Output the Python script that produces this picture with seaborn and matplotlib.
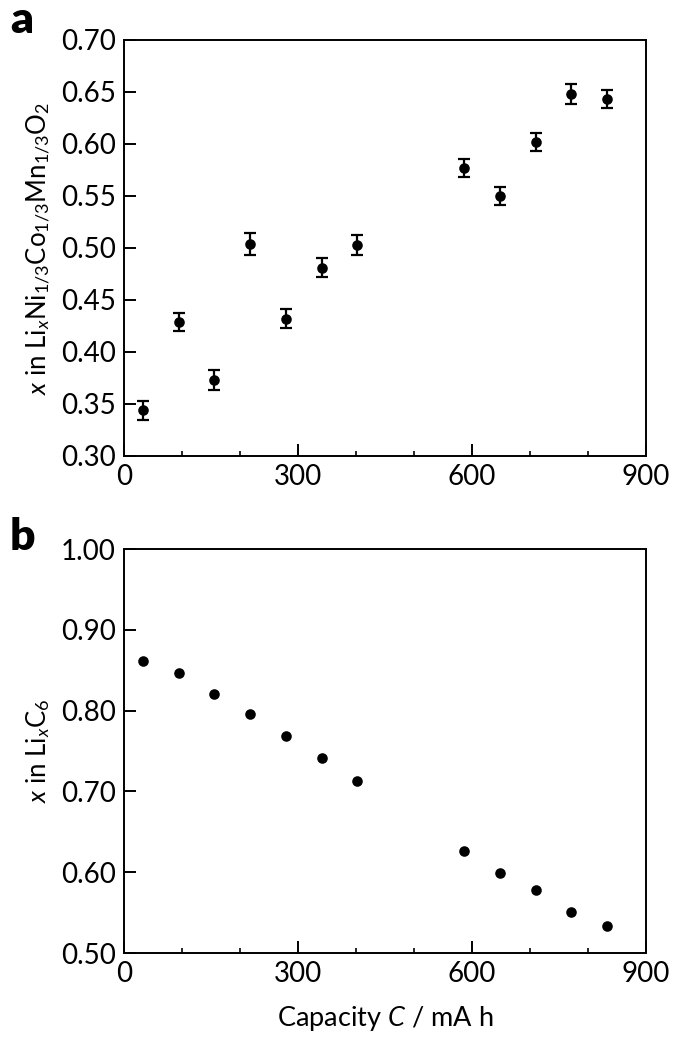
import matplotlib
matplotlib.use("Agg")
import matplotlib.pyplot as plt
from matplotlib.ticker import MultipleLocator, FormatStrFormatter
import seaborn as sns
import pandas as pd

capacity = [32, 94, 156, 218, 280, 341, 402, 586, 648, 710, 771, 833]
x_cathode = [0.344, 0.429, 0.373, 0.504, 0.432, 0.481, 0.503, 0.577, 0.550, 0.602, 0.648, 0.643]
x_cathode_err = [0.009, 0.0085, 0.010, 0.0105, 0.0093, 0.009, 0.0096, 0.0088, 0.0088, 0.0088, 0.0096, 0.0087]
x_anode = [0.862, 0.846, 0.821, 0.796, 0.769, 0.741, 0.713, 0.626, 0.599, 0.578, 0.551, 0.534]

sns.set_theme(style="ticks")
plt.rcParams['font.family'] = ['Lato', 'DejaVu Sans']
plt.rcParams['mathtext.fontset'] = 'custom'
plt.rcParams['mathtext.rm'] = 'Lato'
plt.rcParams['mathtext.it'] = 'Lato:italic'
plt.rcParams['mathtext.bf'] = 'Lato:bold'
plt.rcParams['text.color'] = 'black'
plt.rcParams['axes.labelcolor'] = 'black'

fig = plt.figure(figsize=(6.75, 10.59), dpi=100)
W, H = 675, 1059
ax1 = fig.add_axes([124 / W, 1 - 456 / H, (646 - 124) / W, (456 - 40) / H])
ax2 = fig.add_axes([124 / W, 1 - 953 / H, (646 - 124) / W, (953 - 549) / H])

df = pd.DataFrame({"C": capacity, "cat": x_cathode, "err": x_cathode_err, "an": x_anode})

ax1.errorbar(df["C"], df["cat"], yerr=df["err"], fmt="none", ecolor="black",
             elinewidth=1.6, capsize=4, capthick=1.6, zorder=2)
sns.scatterplot(data=df, x="C", y="cat", ax=ax1, color="black", s=58,
                edgecolor="black", linewidth=0, zorder=3)
sns.scatterplot(data=df, x="C", y="an", ax=ax2, color="black", s=58,
                edgecolor="black", linewidth=0, zorder=3)

for ax in (ax1, ax2):
    ax.set_xlim(0, 900)
    ax.xaxis.set_major_locator(MultipleLocator(300))
    ax.xaxis.set_minor_locator(MultipleLocator(100))
    ax.tick_params(axis="both", which="major", direction="in", length=8.5, width=1.4,
                   labelsize=20, colors="black", pad=6, top=False, right=False)
    ax.tick_params(axis="both", which="minor", direction="in", length=3.5, width=1.4,
                   top=False, right=False)
    for s in ax.spines.values():
        s.set_linewidth(1.4)
        s.set_color("black")
    ax.set_xlabel("")

ax1.set_ylim(0.30, 0.70)
ax1.yaxis.set_major_locator(MultipleLocator(0.05))
ax1.yaxis.set_major_formatter(FormatStrFormatter("%.2f"))
ax1.set_ylabel(r"$x$ in Li$_{x}$Ni$_{1/3}$Co$_{1/3}$Mn$_{1/3}$O$_{2}$", fontsize=18.5, labelpad=6)

ax2.set_ylim(0.50, 1.00)
ax2.yaxis.set_major_locator(MultipleLocator(0.10))
ax2.yaxis.set_major_formatter(FormatStrFormatter("%.2f"))
ax2.set_ylabel(r"$x$ in Li$_{x}$C$_{6}$", fontsize=18.5, labelpad=6)
ax2.set_xlabel(r"Capacity $C$ / mA h", fontsize=19.5, labelpad=12)

fig.text(10 / W, 1 - 20 / H, "a", fontsize=32, fontweight="heavy", va="center", ha="left")
fig.text(10 / W, 1 - 537 / H, "b", fontsize=32, fontweight="heavy", va="center", ha="left")

fig.savefig("out.png", dpi=100)
